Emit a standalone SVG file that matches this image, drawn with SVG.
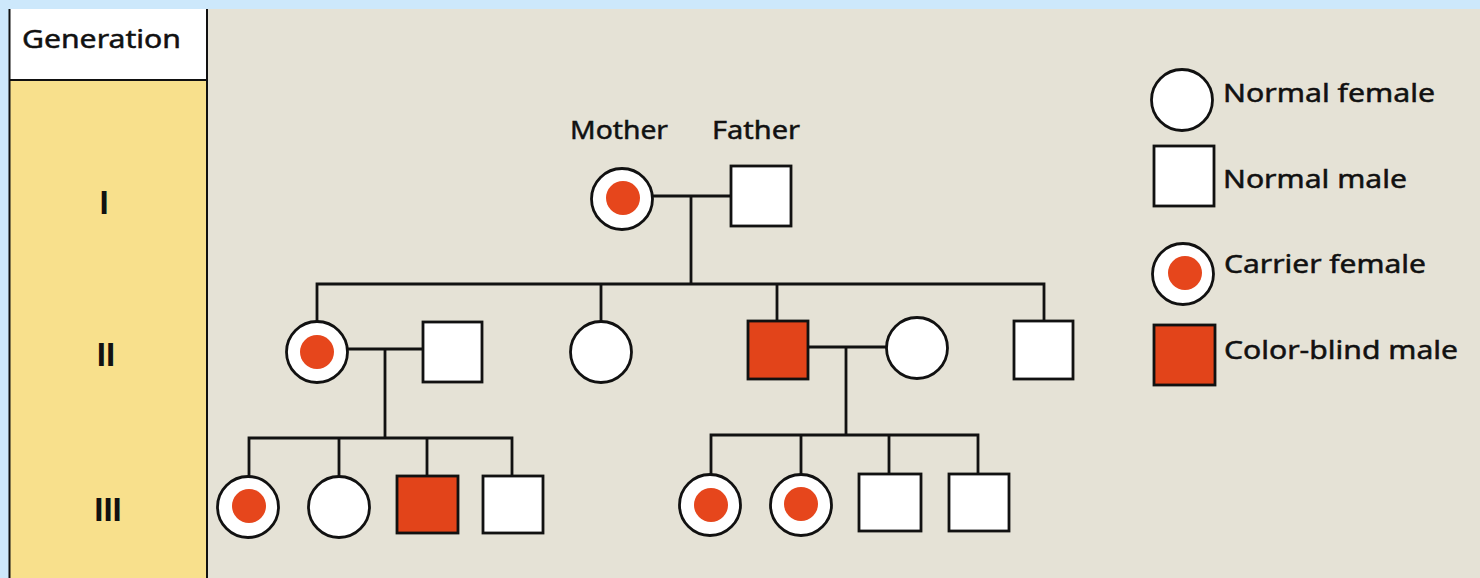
<svg xmlns="http://www.w3.org/2000/svg" width="1480" height="578" viewBox="0 0 1480 578">
<defs>
<style>
.bg{fill:#e5e2d6}
.ln{stroke:#111;stroke-width:2.8;fill:none;stroke-linecap:square}
.sym{fill:#fff;stroke:#111;stroke-width:2.8}
.cb{fill:#e2441a;stroke:#111;stroke-width:2.8}
.dot{fill:#e6461c}
.lbl{font-family:"Noto Sans","Liberation Sans",sans-serif;font-size:26px;fill:#111;stroke:#111;stroke-width:0.5}
.rom{font-family:"Liberation Sans",sans-serif;font-weight:bold;font-size:33px;fill:#111;text-anchor:middle}
</style>
</defs>
<rect x="0" y="0" width="1480" height="578" fill="#cde8fb"/>
<rect class="bg" x="9" y="9" width="1471" height="569"/>
<g id="generation-column">
<rect x="9" y="9" width="198" height="71" fill="#ffffff"/>
<rect x="9" y="80" width="198" height="498" fill="#f8e08c"/>
<line x1="9" y1="80" x2="207" y2="80" stroke="#111" stroke-width="2"/>
<line x1="9.5" y1="9" x2="9.5" y2="578" stroke="#111" stroke-width="2"/>
<line x1="207" y1="9" x2="207" y2="578" stroke="#111" stroke-width="2"/>
<text class="lbl" x="22" y="48" textLength="159" lengthAdjust="spacingAndGlyphs">Generation</text>
<text class="rom" x="104" y="214">I</text>
<text class="rom" x="106" y="366">II</text>
<text class="rom" x="108" y="521">III</text>
</g>
<g id="connectors">
<path class="ln" d="M653 196 H731 M691 196 V284 M317 284 H1044 M317 284 V321 M601 284 V321 M777 284 V321 M1044 284 V321"/>
<path class="ln" d="M348 349 H423 M385 349 V438 M249 438 H512 M249 438 V476 M339 438 V476 M427 438 V476 M512 438 V476"/>
<path class="ln" d="M808 347 H887 M846 347 V435 M711 435 H978 M711 435 V474 M801 435 V474 M889 435 V474 M978 435 V474"/>
</g>
<g id="labels">
<text class="lbl" x="570" y="139" textLength="98" lengthAdjust="spacingAndGlyphs">Mother</text>
<text class="lbl" x="712" y="139" textLength="88" lengthAdjust="spacingAndGlyphs">Father</text>
</g>
<g id="I-1-mother"><circle class="sym" cx="622" cy="199" r="30.5"/><circle class="dot" cx="623" cy="198" r="17"/></g>
<g id="I-2-father"><rect class="sym" x="731" y="166" width="60" height="60"/></g>
<g id="II-1-carrier-female"><circle class="sym" cx="317" cy="352" r="30.5"/><circle class="dot" cx="317" cy="352" r="17"/></g>
<g id="II-1-spouse"><rect class="sym" x="423" y="322" width="59" height="60"/></g>
<g id="II-2-normal-female"><circle class="sym" cx="601" cy="352" r="30.5"/></g>
<g id="II-3-colorblind-male"><rect class="cb" x="748" y="321" width="60" height="58"/></g>
<g id="II-3-spouse"><circle class="sym" cx="917" cy="348" r="30.5"/></g>
<g id="II-4-normal-male"><rect class="sym" x="1014" y="321" width="59" height="58"/></g>
<g id="III-1-carrier-female"><circle class="sym" cx="248" cy="507" r="30.5"/><circle class="dot" cx="249" cy="506" r="17"/></g>
<g id="III-2-normal-female"><circle class="sym" cx="339" cy="507" r="30.5"/></g>
<g id="III-3-colorblind-male"><rect class="cb" x="397" y="476" width="61" height="57"/></g>
<g id="III-4-normal-male"><rect class="sym" x="483" y="476" width="60" height="57"/></g>
<g id="III-5-carrier-female"><circle class="sym" cx="710" cy="505" r="30.5"/><circle class="dot" cx="711" cy="505" r="17"/></g>
<g id="III-6-carrier-female"><circle class="sym" cx="801" cy="505" r="30.5"/><circle class="dot" cx="801" cy="504" r="17"/></g>
<g id="III-7-normal-male"><rect class="sym" x="859" y="474" width="62" height="57"/></g>
<g id="III-8-normal-male"><rect class="sym" x="949" y="474" width="60" height="57"/></g>
<g id="legend">
<g id="legend-normal-female"><circle class="sym" cx="1182" cy="100" r="30.5"/><text class="lbl" x="1223" y="102" textLength="212" lengthAdjust="spacingAndGlyphs">Normal female</text></g>
<g id="legend-normal-male"><rect class="sym" x="1154" y="146" width="60" height="60"/><text class="lbl" x="1223" y="188" textLength="184" lengthAdjust="spacingAndGlyphs">Normal male</text></g>
<g id="legend-carrier-female"><circle class="sym" cx="1183" cy="274" r="30.5"/><circle class="dot" cx="1185" cy="273" r="17"/><text class="lbl" x="1224" y="273" textLength="202" lengthAdjust="spacingAndGlyphs">Carrier female</text></g>
<g id="legend-colorblind-male"><rect class="cb" x="1154" y="325" width="61" height="60"/><text class="lbl" x="1224" y="359" textLength="234" lengthAdjust="spacingAndGlyphs">Color-blind male</text></g>
</g>
</svg>
